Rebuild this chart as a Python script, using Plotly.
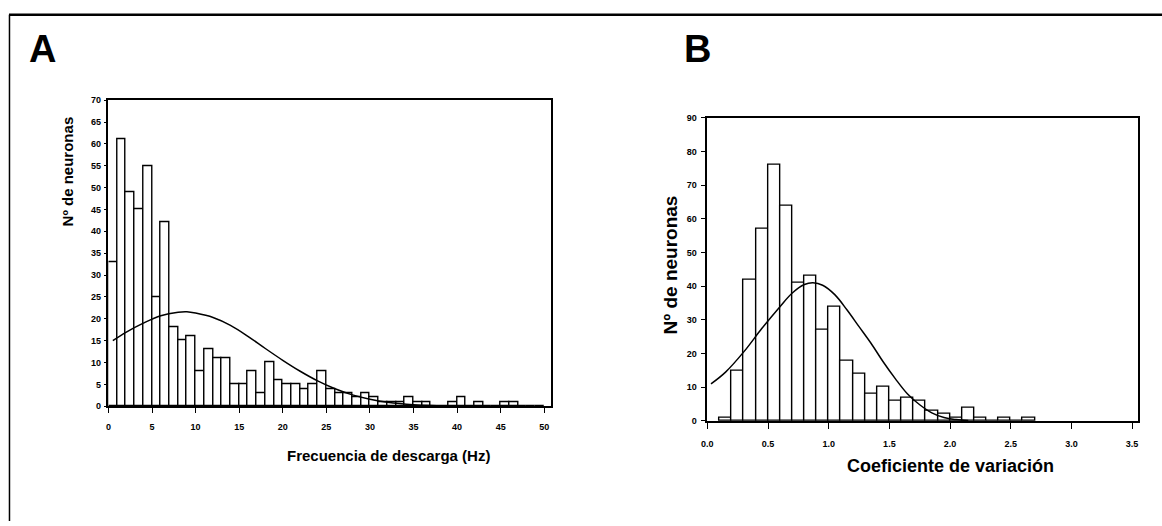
import plotly.graph_objects as go

W, H = 1162, 526

# ---- Panel A: firing frequency histogram (1 Hz bins starting at 0) ----
freq_bin_start = list(range(0, 50))
freq_counts = [33, 61, 49, 45, 55, 25, 42, 18, 15, 16,
               8, 13, 11, 11, 5, 5, 8, 3, 10, 6,
               5, 5, 4, 5, 8, 4, 3, 3, 2, 3,
               2, 1, 1, 1, 2, 1, 1, 0, 0, 1,
               2, 0, 1, 0, 0, 1, 1, 0, 0, 0]
freq_curve_x = [0.5, 2, 4, 6, 8, 9, 10, 12, 14, 16, 18, 20, 22, 24, 26, 28, 30, 32, 35, 40, 48]
freq_curve_y = [15, 16.9, 19.0, 20.7, 21.5, 21.6, 21.3, 20.3, 18.5, 16.0, 13.2, 10.5, 8.0, 5.8, 4.0, 2.6, 1.6, 0.9, 0.35, 0.05, 0]
freq_xticks = [0, 5, 10, 15, 20, 25, 30, 35, 40, 45, 50]
freq_yticks = [0, 5, 10, 15, 20, 25, 30, 35, 40, 45, 50, 55, 60, 65, 70]

# ---- Panel B: coefficient of variation histogram (0.1 bins) ----
cv_bin_start = [0.1, 0.2, 0.3, 0.4, 0.5, 0.6, 0.7, 0.8, 0.9, 1.0,
                1.1, 1.2, 1.3, 1.4, 1.5, 1.6, 1.7, 1.8, 1.9, 2.0,
                2.1, 2.2, 2.3, 2.4, 2.5, 2.6]
cv_counts = [1, 15, 42, 57, 76, 64, 41, 43, 27, 34,
             18, 14, 8, 10, 6, 7, 6, 3, 2, 1,
             4, 1, 0, 1, 0, 1]
cv_curve_x = [0.03, 0.15, 0.3, 0.45, 0.6, 0.7, 0.8, 0.87, 0.95, 1.05, 1.15, 1.25, 1.35, 1.45, 1.55, 1.65, 1.75, 1.85, 1.95, 2.05, 2.15]
cv_curve_y = [11, 14.5, 20.5, 27.5, 34, 38, 40.5, 41, 40.3, 37.5, 33, 28, 23, 17.5, 12.5, 8, 4.8, 2.4, 1.0, 0.4, 0.1]
cv_xticks = [0.0, 0.5, 1.0, 1.5, 2.0, 2.5, 3.0, 3.5]
cv_yticks = [0, 10, 20, 30, 40, 50, 60, 70, 80, 90]

FONT = "Liberation Sans, Arial, sans-serif"

fig = go.Figure()

fig.add_trace(go.Bar(
    x=[s + 0.5 for s in freq_bin_start], y=freq_counts, width=1.0,
    marker=dict(color="white", line=dict(color="black", width=1.4)),
    xaxis="x", yaxis="y", showlegend=False))
fig.add_trace(go.Scatter(
    x=freq_curve_x, y=freq_curve_y, mode="lines", line=dict(color="black", width=1.5, shape="spline"),
    xaxis="x", yaxis="y", showlegend=False))

fig.add_trace(go.Bar(
    x=[s + 0.05 for s in cv_bin_start], y=cv_counts, width=0.1,
    marker=dict(color="white", line=dict(color="black", width=1.4)),
    xaxis="x2", yaxis="y2", showlegend=False))
fig.add_trace(go.Scatter(
    x=cv_curve_x, y=cv_curve_y, mode="lines", line=dict(color="black", width=1.5, shape="spline"),
    xaxis="x2", yaxis="y2", showlegend=False))

tickfont = dict(family=FONT, size=9, color="black", weight="bold")


def ax(**kw):
    base = dict(showline=True, linecolor="black", linewidth=1.5, mirror=True, showgrid=False,
                zeroline=False, ticks="outside", ticklen=3, tickcolor="black", tickfont=tickfont)
    base.update(kw)
    return base


fig.update_layout(
    width=W, height=H, margin=dict(l=0, r=0, t=0, b=0),
    paper_bgcolor="white", plot_bgcolor="white", bargap=0,
    xaxis=ax(domain=[103 / W, 548 / W], range=[0, 50.8], tickvals=freq_xticks,
             ticklen=5, ticklabelstandoff=6, anchor="y"),
    yaxis=ax(domain=[1 - 409 / H, 1 - 97 / H], range=[0, 70], tickvals=freq_yticks, anchor="x",
             ticklen=3, ticklabelstandoff=1),
    xaxis2=ax(domain=[705 / W, 1138 / W], range=[0, 3.55], tickvals=cv_xticks, tickformat=".1f",
              ticklen=6, ticklabelstandoff=8, anchor="y2"),
    yaxis2=ax(domain=[1 - 424 / H, 1 - 115 / H], range=[0, 90], tickvals=cv_yticks, anchor="x2",
              ticklen=5, ticklabelstandoff=2),
)

ann = []
ann.append(dict(text="<b>A</b>", x=21 / W, y=1 - 45 / H, xref="paper", yref="paper",
                xanchor="left", yanchor="middle", showarrow=False,
                font=dict(family=FONT, size=38, color="black")))
ann.append(dict(text="<b>B</b>", x=680 / W, y=1 - 45 / H, xref="paper", yref="paper",
                xanchor="left", yanchor="middle", showarrow=False,
                font=dict(family=FONT, size=38, color="black")))
ann.append(dict(text="<b>Nº de neuronas</b>", x=62 / W, y=1 - 170 / H, xref="paper", yref="paper",
                xanchor="center", yanchor="middle", showarrow=False, textangle=-90,
                font=dict(family=FONT, size=15, color="black")))
ann.append(dict(text="<b>Frecuencia de descarga (Hz)</b>", x=384 / W, y=1 - 459 / H, xref="paper", yref="paper",
                xanchor="center", yanchor="middle", showarrow=False,
                font=dict(family=FONT, size=15, color="black")))
ann.append(dict(text="<b>Nº de neuronas</b>", x=668 / W, y=1 - 265 / H, xref="paper", yref="paper",
                xanchor="center", yanchor="middle", showarrow=False, textangle=-90,
                font=dict(family=FONT, size=19, color="black")))
ann.append(dict(text="<b>Coeficiente de variación</b>", x=949 / W, y=1 - 470 / H, xref="paper", yref="paper",
                xanchor="center", yanchor="middle", showarrow=False,
                font=dict(family=FONT, size=18, color="black")))
fig.update_layout(annotations=ann)

fig.update_layout(shapes=[
    dict(type="line", xref="paper", yref="paper", x0=3 / W, x1=1, y0=1 - 10 / H, y1=1 - 10 / H,
         line=dict(color="black", width=2.5)),
    dict(type="line", xref="paper", yref="paper", x0=3.5 / W, x1=3.5 / W, y0=0, y1=1 - 10 / H,
         line=dict(color="black", width=1.5)),
])

fig.write_html("out.html", config={"displayModeBar": False},
               post_script="document.body.style.margin='0';document.body.style.overflow='hidden';")
